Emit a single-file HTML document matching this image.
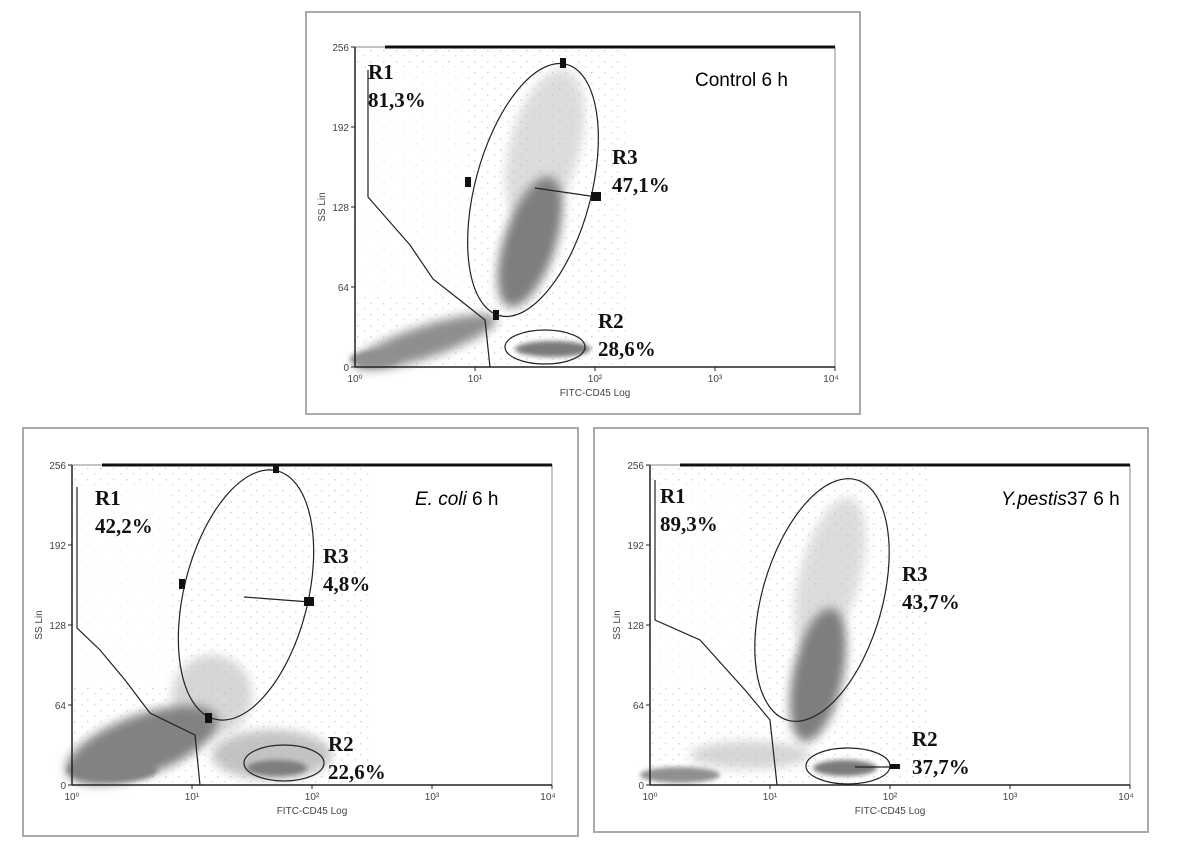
<!DOCTYPE html>
<html><head><meta charset="utf-8"><style>
html,body{margin:0;padding:0;background:#fff;}
svg{display:block;}
.t{font-family:"Liberation Sans",sans-serif;font-size:10px;fill:#444;}
.b{font-family:"Liberation Serif",serif;font-size:21px;font-weight:bold;fill:#111;}
.ti{font-family:"Liberation Sans",sans-serif;font-size:19px;fill:#000;}
</style></head><body>
<svg width="1177" height="844" viewBox="0 0 1177 844" xmlns="http://www.w3.org/2000/svg">
<defs>
<filter id="bl" x="-50%" y="-50%" width="200%" height="200%"><feGaussianBlur stdDeviation="5"/></filter>
<filter id="bl2" x="-50%" y="-50%" width="200%" height="200%"><feGaussianBlur stdDeviation="2.5"/></filter>
<pattern id="dots" width="13" height="11" patternUnits="userSpaceOnUse">
<rect x="2" y="3" width="1.5" height="1.5" fill="#999"/><rect x="9" y="8" width="1.5" height="1.5" fill="#aaa"/>
</pattern>
<g id="axes">
<rect x="0" y="0" width="480" height="320" fill="none" stroke="#888" stroke-width="1"/>
<line x1="30" y1="0" x2="480" y2="0" stroke="#111" stroke-width="3"/>
<line x1="0" y1="0" x2="0" y2="320" stroke="#222" stroke-width="1.5"/>
<line x1="0" y1="320" x2="480" y2="320" stroke="#222" stroke-width="1.5"/>
<g stroke="#222"><line x1="-4" y1="0" x2="0" y2="0"/><line x1="-4" y1="80" x2="0" y2="80"/><line x1="-4" y1="160" x2="0" y2="160"/><line x1="-4" y1="240" x2="0" y2="240"/><line x1="-4" y1="320" x2="0" y2="320"/>
<line x1="120" y1="320" x2="120" y2="324"/><line x1="240" y1="320" x2="240" y2="324"/><line x1="360" y1="320" x2="360" y2="324"/><line x1="480" y1="320" x2="480" y2="324"/></g>
<text class="t" x="-6" y="4" text-anchor="end">256</text>
<text class="t" x="-6" y="84" text-anchor="end">192</text>
<text class="t" x="-6" y="164" text-anchor="end">128</text>
<text class="t" x="-6" y="244" text-anchor="end">64</text>
<text class="t" x="-6" y="324" text-anchor="end">0</text>
<text class="t" x="0" y="335" text-anchor="middle">10⁰</text>
<text class="t" x="120" y="335" text-anchor="middle">10¹</text>
<text class="t" x="240" y="335" text-anchor="middle">10²</text>
<text class="t" x="360" y="335" text-anchor="middle">10³</text>
<text class="t" x="476" y="335" text-anchor="middle">10⁴</text>
<text class="t" x="240" y="349" text-anchor="middle">FITC-CD45 Log</text>
<text class="t" x="-30" y="160" text-anchor="middle" transform="rotate(-90 -30 160)">SS Lin</text>
</g>
</defs>

<!-- Panel 1 -->
<rect x="306" y="12" width="554" height="402" fill="#fff" stroke="#aaa" stroke-width="2"/>
<g transform="translate(355,47)">
<rect x="0" y="0" width="270" height="320" fill="url(#dots)" opacity="0.4"/>
<rect x="0" y="20" width="110" height="230" fill="#fff" opacity="0.6"/>
<ellipse cx="190" cy="100" rx="35" ry="80" transform="rotate(15 190 100)" fill="#bbb" opacity="0.5" filter="url(#bl)"/>
<ellipse cx="175" cy="195" rx="26" ry="68" transform="rotate(18 175 195)" fill="#7e7e7e" filter="url(#bl)"/>
<ellipse cx="198" cy="302" rx="38" ry="8" fill="#7a7a7a" filter="url(#bl2)"/>
<ellipse cx="70" cy="295" rx="75" ry="16" transform="rotate(-18 70 295)" fill="#8e8e8e" filter="url(#bl)"/>
<ellipse cx="20" cy="312" rx="25" ry="8" fill="#909090" filter="url(#bl2)"/>
<use href="#axes"/>
<ellipse cx="178" cy="143" rx="58" ry="130" transform="rotate(15 178 143)" fill="none" stroke="#222" stroke-width="1.2"/>
<ellipse cx="190" cy="300" rx="40" ry="17" fill="none" stroke="#222" stroke-width="1.2"/>
<polyline points="13,23 13,150 55,198 78,232 115,261 130,273 135,320" fill="none" stroke="#222" stroke-width="1.2"/>
<line x1="180" y1="141" x2="242" y2="150" stroke="#222" stroke-width="1.2"/>
<rect x="205" y="11" width="6" height="10" fill="#111"/><rect x="110" y="130" width="6" height="10" fill="#111"/><rect x="236" y="145" width="10" height="9" fill="#111"/><rect x="138" y="263" width="6" height="10" fill="#111"/>
</g>
<text class="b" x="368" y="79">R1</text><text class="b" x="368" y="107">81,3%</text>
<text class="b" x="612" y="164">R3</text><text class="b" x="612" y="192">47,1%</text>
<text class="b" x="598" y="328">R2</text><text class="b" x="598" y="356">28,6%</text>
<text class="ti" x="695" y="86">Control 6 h</text>

<!-- Panel 2 -->
<rect x="23" y="428" width="555" height="408" fill="#fff" stroke="#aaa" stroke-width="2"/>
<g transform="translate(72,465)">
<rect x="0" y="0" width="300" height="320" fill="url(#dots)" opacity="0.4"/>
<rect x="0" y="20" width="100" height="200" fill="#fff" opacity="0.7"/>
<ellipse cx="140" cy="230" rx="40" ry="40" fill="#bbb" opacity="0.6" filter="url(#bl)"/>
<ellipse cx="200" cy="290" rx="60" ry="25" fill="#aaa" opacity="0.7" filter="url(#bl)"/>
<ellipse cx="70" cy="280" rx="80" ry="30" transform="rotate(-20 70 280)" fill="#828282" filter="url(#bl)"/>
<ellipse cx="40" cy="305" rx="45" ry="12" fill="#828282" filter="url(#bl2)"/>
<ellipse cx="205" cy="303" rx="30" ry="8" fill="#7e7e7e" filter="url(#bl2)"/>
<use href="#axes"/>
<ellipse cx="174" cy="130" rx="62" ry="128" transform="rotate(14 174 130)" fill="none" stroke="#222" stroke-width="1.2"/>
<ellipse cx="212" cy="298" rx="40" ry="18" fill="none" stroke="#222" stroke-width="1.2"/>
<polyline points="5,22 5,163 28,185 53,215 78,248 123,270 128,320" fill="none" stroke="#222" stroke-width="1.2"/>
<line x1="172" y1="132" x2="238" y2="137" stroke="#222" stroke-width="1.2"/>
<rect x="201" y="0" width="6" height="8" fill="#111"/><rect x="107" y="114" width="6" height="10" fill="#111"/><rect x="232" y="132" width="10" height="9" fill="#111"/><rect x="133" y="248" width="7" height="10" fill="#111"/>
</g>
<text class="b" x="95" y="505">R1</text><text class="b" x="95" y="533">42,2%</text>
<text class="b" x="323" y="563">R3</text><text class="b" x="323" y="591">4,8%</text>
<text class="b" x="328" y="751">R2</text><text class="b" x="328" y="779">22,6%</text>
<text class="ti" x="415" y="505"><tspan font-style="italic">E. coli</tspan> 6 h</text>

<!-- Panel 3 -->
<rect x="594" y="428" width="554" height="404" fill="#fff" stroke="#aaa" stroke-width="2"/>
<g transform="translate(650,465)">
<rect x="0" y="0" width="280" height="320" fill="url(#dots)" opacity="0.4"/>
<rect x="0" y="20" width="100" height="200" fill="#fff" opacity="0.6"/>
<ellipse cx="180" cy="110" rx="30" ry="80" transform="rotate(15 180 110)" fill="#bbb" opacity="0.5" filter="url(#bl)"/>
<ellipse cx="100" cy="290" rx="60" ry="14" fill="#bbb" opacity="0.6" filter="url(#bl)"/>
<ellipse cx="168" cy="210" rx="25" ry="68" transform="rotate(12 168 210)" fill="#7e7e7e" filter="url(#bl)"/>
<ellipse cx="195" cy="303" rx="32" ry="8" fill="#7a7a7a" filter="url(#bl2)"/>
<ellipse cx="30" cy="310" rx="40" ry="8" fill="#909090" filter="url(#bl2)"/>
<use href="#axes"/>
<ellipse cx="172" cy="135" rx="60" ry="125" transform="rotate(16 172 135)" fill="none" stroke="#222" stroke-width="1.2"/>
<ellipse cx="198" cy="301" rx="42" ry="18" fill="none" stroke="#222" stroke-width="1.2"/>
<polyline points="5,15 5,155 50,175 95,225 120,255 127,320" fill="none" stroke="#222" stroke-width="1.2"/>
<line x1="205" y1="302" x2="250" y2="302" stroke="#222" stroke-width="1.2"/>
<rect x="240" y="299" width="10" height="5" fill="#111"/>
</g>
<text class="b" x="660" y="503">R1</text><text class="b" x="660" y="531">89,3%</text>
<text class="b" x="902" y="581">R3</text><text class="b" x="902" y="609">43,7%</text>
<text class="b" x="912" y="746">R2</text><text class="b" x="912" y="774">37,7%</text>
<text class="ti" x="1001" y="505"><tspan font-style="italic">Y.pestis</tspan>37 6 h</text>
</svg>
</body></html>
